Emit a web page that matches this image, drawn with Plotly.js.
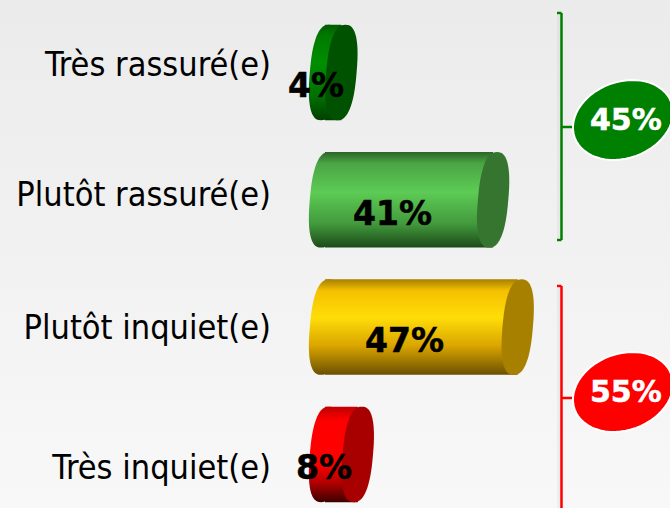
<!DOCTYPE html>
<html>
<head>
<meta charset="utf-8">
<script src="https://cdn.plot.ly/plotly-3.0.1.min.js"></script>
<style>
html,body{margin:0;padding:0;width:670px;height:508px;overflow:hidden;background:linear-gradient(180deg,#ebebeb 0%,#f8f8f8 100%);}
#chart{width:670px;height:508px;}
</style>
</head>
<body>
<div id="chart"></div>
<script>
var categories = ["Très rassuré(e)", "Plutôt rassuré(e)", "Plutôt inquiet(e)", "Très inquiet(e)"];
var values = [4, 41, 47, 8];
var valueLabels = ["4%", "41%", "47%", "8%"];
var barColors = ["#008000", "#4fb548", "#ffc800", "#ff0000"];
var capColors = ["#005200", "#35752f", "#a88000", "#a80000"];
var groupLabels = ["45%", "55%"];
var groupColors = ["#008000", "#ff0000"];

var gradients = [
  [[0,"#005c00"],[0.12,"#007a00"],[0.4,"#008e00"],[0.75,"#007000"],[1,"#004000"]],
  [[0,"#2c6628"],[0.12,"#4aa544"],[0.42,"#5dcb55"],[0.75,"#429a3c"],[1,"#1c4a19"]],
  [[0,"#a88000"],[0.12,"#f5c000"],[0.4,"#ffdd08"],[0.7,"#d9a400"],[1,"#6a5000"]],
  [[0,"#c00000"],[0.15,"#ff0000"],[0.6,"#ff0000"],[0.8,"#b00000"],[1,"#3c0000"]]
];

var PXU = 4.1, X0 = 325, PYU = 127.3, Y0 = 72.5;
function toX(px){ return (px - X0) / PXU; }
function toY(py){ return (py - Y0) / PYU; }
function spow(v, p){ return (v < 0 ? -1 : 1) * Math.pow(Math.abs(v), p); }

function capPath(cx, i){
  var d = "";
  for (var k = 0; k < 72; k++){
    var t = k / 72 * 2 * Math.PI;
    var c = spow(Math.cos(t), 0.8), s = spow(Math.sin(t), 0.8);
    var x = cx + (15.2 * c - 4 * s) / PXU;
    var y = i + 0.75 / 2 * s;
    d += (k ? "L" : "M") + x.toFixed(3) + "," + y.toFixed(4);
  }
  return d + "Z";
}
function badgePath(cxp, cyp){
  var a = 51.4, b = 38.2, phi = -20 * Math.PI / 180, d = "";
  for (var k = 0; k < 60; k++){
    var t = k / 60 * 2 * Math.PI;
    var x = cxp + a * Math.cos(t) * Math.cos(phi) - b * Math.sin(t) * Math.sin(phi);
    var y = cyp + a * Math.cos(t) * Math.sin(phi) + b * Math.sin(t) * Math.cos(phi);
    d += (k ? "L" : "M") + toX(x).toFixed(3) + "," + toY(y).toFixed(4);
  }
  return d + "Z";
}
function seg(x0,y0,x1,y1,c){
  return {type:"line", layer:"above", x0:toX(x0), x1:toX(x1), y0:toY(y0), y1:toY(y1), line:{color:c,width:2.5}};
}

var rows = values.map(function(_, i){ return i; });
var shapes = [];
rows.forEach(function(i){
  shapes.push({type:"path", layer:"below", path:capPath(0,i), fillcolor:barColors[i], line:{width:0}});
});
rows.forEach(function(i){
  shapes.push({type:"path", layer:"above", path:capPath(values[i],i), fillcolor:capColors[i], line:{width:0}});
});
[[13,240,127,0],[286,520,398,1]].forEach(function(b){
  var c = groupColors[b[3]];
  shapes.push({type:"rect", layer:"below", x0:toX(557), x1:toX(561), y0:toY(b[0]+2), y1:toY(b[1]-2),
               fillcolor:"rgba(0,0,0,0.035)", line:{width:0}});
  shapes.push(seg(561.5,b[0],561.5,b[1],c));
  shapes.push(seg(557,b[0],561.5,b[0],c));
  if (b[1] < 508) shapes.push(seg(557,b[1],561.5,b[1],c));
  shapes.push(seg(561.5,b[2],573,b[2],c));
});
shapes.push({type:"path", layer:"above", path:badgePath(623,120), fillcolor:groupColors[0], line:{color:"#ffffff",width:2}});
shapes.push({type:"path", layer:"above", path:badgePath(623,392), fillcolor:groupColors[1], line:{color:"#ffffff",width:2}});

var annotations = rows.map(function(i){
  return {x: values[i]/2 - 4.15, y: i + 0.105, text: valueLabels[i], showarrow:false, xanchor:"center", yanchor:"middle",
          font:{family:"DejaVu Sans", size:33, color:"#000000", weight:700}};
});
groupLabels.forEach(function(t, g){
  annotations.push({x: toX(626), y: toY(g ? 391 : 119), text:t, showarrow:false, xanchor:"center", yanchor:"middle",
          font:{family:"DejaVu Sans", size:30, color:"#ffffff", weight:700}});
});

var trace = {type:"bar", orientation:"h", x:values, y:rows, width:0.75,
  marker:{color:barColors, line:{width:0}}, hoverinfo:"skip", showlegend:false};

var layout = {
  width:670, height:508, margin:{l:275,r:0,t:0,b:0},
  paper_bgcolor:"rgba(0,0,0,0)", plot_bgcolor:"rgba(0,0,0,0)",
  showlegend:false, shapes:shapes, annotations:annotations,
  xaxis:{visible:false, range:[toX(275), toX(670)], fixedrange:true},
  yaxis:{range:[toY(508), toY(0)], showgrid:false, zeroline:false, showline:false, ticks:"",
    tickmode:"array", tickvals:[64,194,327,467].map(toY), ticktext:categories, ticklabelstandoff:3,
    tickfont:{family:"DejaVu Sans Condensed, DejaVu Sans", size:34, color:"#000000"}, fixedrange:true}
};

Plotly.newPlot("chart",[trace],layout,{displayModeBar:false,staticPlot:true}).then(function(gd){
  var svg = gd.querySelector(".main-svg");
  var NS = "http://www.w3.org/2000/svg";
  var defs = document.createElementNS(NS,"defs");
  gradients.forEach(function(stops,i){
    var g = document.createElementNS(NS,"linearGradient");
    g.setAttribute("id","cyl"+i); g.setAttribute("x1","0"); g.setAttribute("y1","0"); g.setAttribute("x2","0"); g.setAttribute("y2","1");
    stops.forEach(function(s){
      var st = document.createElementNS(NS,"stop");
      st.setAttribute("offset",s[0]); st.setAttribute("stop-color",s[1]); g.appendChild(st);
    });
    defs.appendChild(g);
  });
  svg.insertBefore(defs, svg.firstChild);
  gd.querySelectorAll(".bars .point path").forEach(function(p,i){ p.style.fill = "url(#cyl"+i+")"; });
  gd.querySelectorAll(".shapelayer path").forEach(function(p){
    var i = +p.getAttribute("data-index");
    if (i < 4) p.style.fill = "url(#cyl"+i+")";
  });
  gd.querySelectorAll(".annotation-text").forEach(function(t){
    t.style.stroke = t.style.fill; t.style.strokeWidth = "0.5px";
  });
});
</script>
</body>
</html>
